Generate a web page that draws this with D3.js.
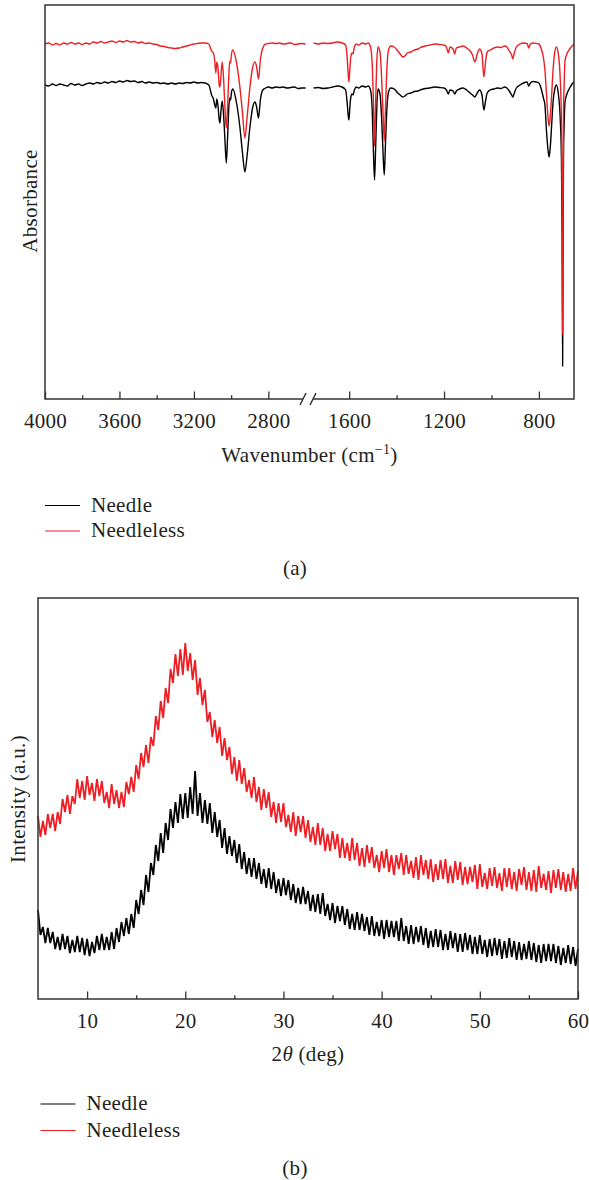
<!DOCTYPE html>
<meta charset="utf-8">
<style>
    body { margin: 0; background-color: #fff; }
    text { font-family: "Liberation Serif", "Times New Roman", serif; fill: #231f20; font-size: 21px; letter-spacing: 0.3px; }
    .frame { fill: none; stroke: #333; stroke-width: 1.5px; }
    .axis line { stroke: #333; stroke-width: 1.3px; }
</style>
<body>
<svg width="589" height="1180"></svg>
<script src="https://d3js.org/d3.v7.min.js"></script>
<script>
    // ---------- data ----------
    // FTIR: [wavenumber (cm-1), absorbance a.u.]
    var ftirNeedle = [[4000,314],[3980,313],[3960,315],[3940,313.5],[3920,315],[3900,314],[3880,313],[3860,315.5],[3840,314],[3820,315],[3800,313.5],[3780,315],[3760,316],[3740,315],[3720,316.5],[3700,315.5],[3680,317],[3660,316],[3640,317.5],[3620,316.5],[3600,318],[3580,317],[3560,318.5],[3540,317.5],[3520,318],[3500,316.5],[3480,317.5],[3460,316],[3440,317],[3420,316],[3400,316.5],[3380,315.5],[3360,316],[3340,315],[3320,316],[3300,315],[3280,316],[3260,315.5],[3240,316.5],[3220,316],[3200,317],[3180,316],[3160,316.5],[3140,316],[3120,314],[3105,304],[3095,300],[3088,294],[3082,291],[3077,300],[3070,292],[3064,279],[3060,276],[3055,287],[3048,298],[3040,282],[3033,258],[3026,236],[3019,262],[3012,293],[3007,301],[3003,299],[2998,307],[2991,310],[2971,296],[2953,272],[2939,246],[2926,227],[2914,244],[2899,272],[2885,291],[2872,297],[2863,292],[2853,281],[2843,299],[2830,309],[2815,311],[2800,312],[2780,311],[2760,312],[2740,311.5],[2720,312],[2700,311],[2680,311.5],[2660,312],[2640,310.5],[2620,311],[2600,311],
        [1750,311],[1730,311.5],[1710,310.5],[1690,311],[1670,312],[1650,313],[1630,312],[1615,309],[1608,295],[1604,283],[1601,279],[1597,292],[1593,302],[1588,305],[1584,304],[1578,309],[1570,312],[1560,311],[1545,313],[1530,312],[1520,313],[1510,309],[1503,290],[1498,250],[1493,219],[1488,255],[1483,295],[1478,310],[1470,305],[1463,280],[1457,245],[1452,224],[1447,255],[1441,290],[1435,306],[1425,311],[1410,310],[1395,306],[1385,304],[1375,302],[1365,303],[1355,305],[1340,306],[1325,307.5],[1310,308],[1295,309.5],[1280,310.5],[1260,311],[1240,312],[1220,311.5],[1200,311],[1190,309],[1182,305],[1175,309],[1162,308],[1155,305],[1148,308],[1135,310],[1120,311],[1105,309],[1090,306],[1080,304],[1070,302],[1060,306],[1050,309],[1040,304],[1032,289],[1025,298],[1018,306],[1005,309],[990,310],[975,311],[960,310.5],[945,312],[935,311],[925,308],[915,304],[910,302],[905,305],[895,311],[880,314],[865,316],[850,317],[843,313],[836,316],[825,317.5],[810,317],[800,316],[790,310],[780,300],[775,295],[768,268],[762,250],[757,242],[752,252],[746,275],[740,298],[733,310],[726,314],[718,305],[710,280],[705,240],[702,160],[700,33],[698,160],[696,250],[694,270],[690,297],[682,305],[670,311],[660,315],[652,317]];

    var ftirNeedleless = [[4000,355],[3980,356],[3960,354],[3940,355.5],[3920,354],[3900,356],[3880,355],[3860,356.5],[3840,355],[3820,356],[3800,354.5],[3780,356],[3760,355],[3740,357],[3720,356],[3700,357.5],[3680,356],[3660,357],[3640,358],[3620,356.5],[3600,358],[3580,357],[3560,358.5],[3540,357],[3520,357.5],[3500,356],[3480,357],[3460,355.5],[3440,356],[3420,355],[3400,354.5],[3380,353],[3360,352.5],[3340,351.5],[3320,351],[3300,350.5],[3280,351],[3260,352],[3240,353],[3220,354],[3200,355],[3180,355.5],[3160,356],[3140,356],[3120,355],[3105,348],[3095,346],[3088,338],[3082,326],[3077,337],[3070,330],[3064,314],[3060,312],[3055,322],[3048,337],[3040,318],[3033,290],[3026,271],[3019,293],[3012,325],[3007,338],[3003,336],[2998,345],[2991,349],[2971,336],[2953,312],[2939,286],[2926,261],[2914,282],[2899,312],[2885,331],[2872,337],[2863,332],[2853,320],[2843,339],[2830,351],[2815,355],[2800,355.5],[2780,356],[2760,355.5],[2740,356],[2720,355],[2700,355.5],[2680,356],[2660,354.5],[2640,355],[2620,355.5],[2600,355],
        [1750,356],[1730,355],[1710,356],[1690,355.5],[1670,356],[1650,357],[1630,356],[1615,354],[1608,340],[1604,325],[1601,317],[1597,330],[1593,342],[1588,346],[1584,345],[1578,352],[1570,355],[1560,354],[1545,356],[1530,355],[1520,356],[1510,352],[1503,335],[1498,300],[1493,253],[1488,300],[1483,340],[1478,352],[1470,347],[1463,320],[1457,285],[1452,258],[1447,290],[1441,330],[1435,348],[1425,353],[1410,352],[1395,348],[1385,345],[1375,342],[1365,343],[1355,346],[1340,347],[1325,349],[1310,350],[1295,352],[1280,353],[1260,354],[1240,355],[1220,354.5],[1200,354],[1190,352],[1182,346],[1175,352],[1162,350],[1155,345],[1148,351],[1135,352],[1120,353],[1105,351],[1090,348],[1080,344],[1070,337],[1060,345],[1050,350],[1040,345],[1032,322],[1025,337],[1018,347],[1005,349],[990,351],[975,352],[960,351.5],[945,353],[935,352],[925,348],[915,344],[910,340],[905,345],[895,352],[880,355],[865,356],[850,355.5],[843,351],[836,355],[825,356],[810,355.5],[800,355],[790,350],[780,340],[775,330],[768,305],[762,283],[757,273],[752,283],[746,305],[740,330],[733,347],[726,352],[718,345],[710,320],[705,280],[702,200],[700,65],[698,200],[696,290],[694,310],[690,338],[682,345],[670,350],[660,353],[652,355]];

    var ftirMajorLeft = [4000, 3600, 3200, 2800],
        ftirMinorLeft = [3800, 3400, 3000],
        ftirMajorRight = [1600, 1200, 800],
        ftirMinorRight = [1400, 1000];

    // XRD: intensity (a.u.), one value every 0.25 deg from 5 to 60
    var xrdStart = 5, xrdStep = 0.25;
    var xrdNeedle = [
        89,64,72,56, 71,56,67,50, 62,49,65,50, 63,46,59,47, 63,47,61,44,
        60,43,57,46, 63,49,65,49, 62,49,67,50, 71,57,77,63, 81,65,85,71,
        99,85,109,94, 124,107,136,124, 154,138,166,146, 176,159,190,171, 197,176,205,180,
        206,181,212,185, 228,183,206,176, 199,175,196,166, 187,162,179,151, 171,145,163,143,
        159,136,155,130, 147,125,141,122, 141,120,136,115, 130,111,131,110, 127,106,120,103,
        121,104,119,99, 115,96,111,95, 112,95,108,88, 104,87,105,85, 106,83,95,79,
        96,76,93,78, 93,74,90,70, 85,69,87,69, 85,68,82,64, 83,63,77,63,
        79,60,79,62, 78,62,78,58, 81,58,73,55, 74,55,72,57, 73,54,71,51,
        68,52,70,52, 69,49,65,49, 68,51,66,47, 65,47,66,49, 64,45,62,45,
        64,45,59,42, 60,43,61,44, 60,40,58,41, 61,42,58,39, 57,39,55,40,
        58,39,56,37, 54,36,55,38, 55,38,55,36, 53,34,51,36, 54,35,52,33,
        50];
    var xrdNeedleless = [
        183,162,178,164, 185,171,185,168, 187,175,200,187, 204,185,203,195, 220,201,218,199,
        223,204,216,198, 220,203,218,196, 207,191,215,195, 209,191,207,192, 217,205,222,207,
        234,220,246,232, 254,236,262,253, 283,269,298,281, 311,296,330,316, 345,323,350,324,
        356,328,346,319, 339,304,321,294, 309,277,287,262, 279,256,272,243, 261,239,252,225,
        242,218,239,215, 231,207,219,201, 222,197,212,189, 210,191,207,182, 197,176,196,177,
        196,172,184,167, 187,163,183,167, 183,161,179,157, 172,154,176,154, 171,148,165,148,
        168,150,165,141, 161,141,156,138, 161,139,156,133, 151,132,154,136, 152,131,144,127,
        148,131,150,127, 144,124,144,130, 146,124,144,125, 138,121,142,119, 144,124,139,120,
        140,117,135,119, 139,120,140,116, 133,116,138,119, 137,114,132,115, 132,117,134,110,
        135,112,126,110, 131,113,132,111, 126,108,131,112, 131,110,127,108, 130,114,132,109,
        127,108,129,107, 133,111,125,109, 128,106,129,111, 130,109,127,107, 125,108,131,110,
        128];
    var xrdMajor = [10, 20, 30, 40, 50, 60],
        xrdMinor = [15, 25, 35, 45, 55];

    var seriesNames = ["Needle", "Needleless"],
        seriesColors = ["#000000", "#ed1f24"];

    var svg = d3.select("svg");

    // ---------- (a) FTIR ----------
    var a = {left: 45, right: 574, top: 5, bottom: 399};
    var xL = d3.scaleLinear().domain([4000, 2600]).range([45, 305.6]);
    var xR = d3.scaleLinear().domain([1750, 652]).range([313.6, 574]);
    var yA = d3.scaleLinear().domain([0, 394]).range([a.bottom, a.top]);

    function ftirLine(x) {
        return d3.line()
            .x(function(d) { return x(d[0]); })
            .y(function(d) { return yA(d[1]); })
            .curve(d3.curveMonotoneX);
    }

    [ftirNeedle, ftirNeedleless].forEach(function(data, i) {
        var left = data.filter(function(d) { return d[0] >= 2600; });
        var right = data.filter(function(d) { return d[0] <= 1750; });
        svg.append("path").datum(left)
            .attr("fill", "none").attr("stroke", seriesColors[i]).attr("stroke-width", 1.4)
            .attr("d", ftirLine(xL));
        svg.append("path").datum(right)
            .attr("fill", "none").attr("stroke", seriesColors[i]).attr("stroke-width", 1.4)
            .attr("d", ftirLine(xR));
    });

    // frame with axis break
    svg.append("path").attr("class", "frame")
        .attr("d", "M303," + a.bottom + "H" + a.left + "V" + a.top + "H" + a.right + "V" + a.bottom + "H313");
    svg.append("path").attr("class", "frame")
        .attr("d", "M300,405L306,393M310,405L316,393");

    function addTicks(scale, major, minor, yPos) {
        var gMaj = svg.append("g").attr("class", "axis")
            .attr("transform", "translate(0," + yPos + ")")
            .call(d3.axisBottom(scale).tickValues(major).tickSize(-7.5).tickPadding(14).tickFormat(d3.format("d")));
        gMaj.select(".domain").remove();
        gMaj.attr("font-family", null).attr("font-size", null);
        var gMin = svg.append("g").attr("class", "axis")
            .attr("transform", "translate(0," + yPos + ")")
            .call(d3.axisBottom(scale).tickValues(minor).tickSize(-3.8).tickFormat(""));
        gMin.select(".domain").remove();
        svg.selectAll(".axis text").attr("fill", "#231f20");
    }
    addTicks(xL, ftirMajorLeft, ftirMinorLeft, a.bottom);
    addTicks(xR, ftirMajorRight, ftirMinorRight, a.bottom);

    var t1 = svg.append("text").attr("x", 309.5).attr("y", 462)
        .attr("text-anchor", "middle");
    t1.append("tspan").text("Wavenumber (cm");
    t1.append("tspan").attr("dy", -8).style("font-size", "14px").text("\u22121");
    t1.append("tspan").attr("dy", 8).text(")");

    svg.append("text").attr("transform", "translate(37,201) rotate(-90)")
        .attr("text-anchor", "middle").text("Absorbance");

    // ---------- (b) XRD ----------
    var b = {left: 38, right: 578, top: 598, bottom: 999};
    var xB = d3.scaleLinear().domain([5, 60]).range([b.left, b.right]);
    var yB = d3.scaleLinear().domain([0, 401]).range([b.bottom, b.top]);

    var xrdLine = d3.line()
        .x(function(d, i) { return xB(xrdStart + i * xrdStep); })
        .y(function(d) { return yB(d); });

    [xrdNeedle, xrdNeedleless].forEach(function(data, i) {
        svg.append("path").datum(data)
            .attr("fill", "none").attr("stroke", seriesColors[i]).attr("stroke-width", 1.8)
            .attr("stroke-linejoin", "bevel")
            .attr("d", xrdLine);
    });

    svg.append("rect").attr("class", "frame")
        .attr("x", b.left).attr("y", b.top)
        .attr("width", b.right - b.left).attr("height", b.bottom - b.top);
    addTicks(xB, xrdMajor, xrdMinor, b.bottom);

    var t2 = svg.append("text").attr("x", 308).attr("y", 1061)
        .attr("text-anchor", "middle");
    t2.append("tspan").text("2");
    t2.append("tspan").style("font-style", "italic").text("\u03b8");
    t2.append("tspan").text(" (deg)");

    svg.append("text").attr("transform", "translate(25,799) rotate(-90)")
        .attr("text-anchor", "middle").text("Intensity (a.u.)");

    // ---------- legends and captions ----------
    function legend(x0, y0, gap) {
        seriesNames.forEach(function(name, i) {
            var yy = y0 + i * gap;
            svg.append("line").attr("x1", x0).attr("x2", x0 + 35).attr("y1", yy).attr("y2", yy)
                .attr("stroke", seriesColors[i]).attr("stroke-width", 1.2);
            svg.append("text").attr("x", x0 + 46).attr("y", yy + 6).text(name);
        });
    }
    legend(45, 505.5, 25.5);
    legend(40.5, 1104, 26.5);

    svg.append("text").attr("x", 295).attr("y", 575).attr("text-anchor", "middle").text("(a)");
    svg.append("text").attr("x", 295).attr("y", 1175).attr("text-anchor", "middle").text("(b)");
</script>
</body>
